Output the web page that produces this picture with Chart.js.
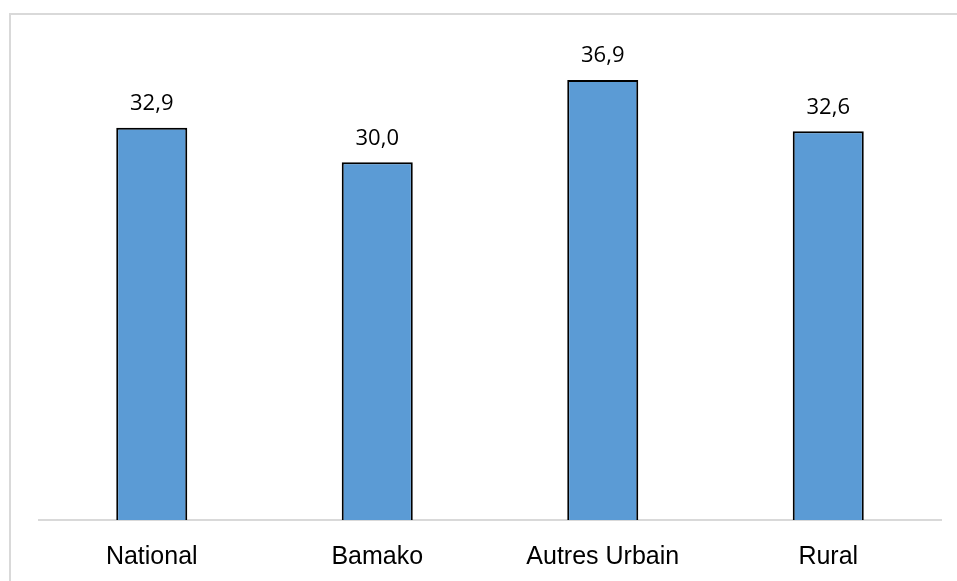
<!DOCTYPE html>
<html>
<head>
<meta charset="utf-8">
<script src="https://cdn.jsdelivr.net/npm/chart.js@4/dist/chart.umd.min.js"></script>
<style>
  html, body { margin: 0; padding: 0; background: #ffffff; }
  #wrap { position: relative; width: 957px; height: 581px; }
</style>
</head>
<body>
<div id="wrap"><canvas id="c" width="957" height="581"></canvas></div>
<script>
const categories = ["National", "Bamako", "Autres Urbain", "Rural"];
const values = [32.9, 30.0, 36.9, 32.6];
const valueLabels = ["32,9", "30,0", "36,9", "32,6"];

const frame = {
  id: 'frame',
  beforeDraw(chart) {
    const ctx = chart.ctx;
    ctx.save();
    ctx.fillStyle = '#ffffff';
    ctx.fillRect(0, 0, chart.width, chart.height);
    ctx.strokeStyle = '#d9d9d9';
    ctx.lineWidth = 2;
    ctx.strokeRect(10, 14, 1000, 700);
    ctx.restore();
  }
};

const valueLabelPlugin = {
  id: 'valueLabels',
  afterDatasetsDraw(chart) {
    const ctx = chart.ctx;
    const meta = chart.getDatasetMeta(0);
    ctx.save();
    ctx.font = '22px "Open Sans", "Noto Sans", sans-serif';
    ctx.fillStyle = '#000000';
    ctx.textAlign = 'center';
    ctx.textBaseline = 'middle';
    meta.data.forEach((bar, i) => {
      ctx.fillText(valueLabels[i], bar.x, bar.y - 24);
    });
    ctx.restore();
  }
};

new Chart(document.getElementById('c'), {
  type: 'bar',
  data: {
    labels: categories,
    datasets: [{
      data: values,
      backgroundColor: '#5B9BD5',
      borderColor: '#000000',
      borderWidth: 2,
      borderSkipped: 'bottom',
      categoryPercentage: 1,
      barPercentage: 0.315
    }]
  },
  options: {
    responsive: false,
    animation: false,
    devicePixelRatio: 1,
    layout: { padding: { left: 39, right: 16, top: 43, bottom: 0 } },
    plugins: { legend: { display: false }, tooltip: { enabled: false } },
    scales: {
      x: {
        grid: { display: false, drawTicks: false },
        border: { display: true, color: '#d9d9d9', width: 2 },
        ticks: {
          color: '#000000',
          padding: 22,
          font: { family: '"Liberation Sans Narrow", "Arial Narrow", "Liberation Sans", sans-serif', size: 25 }
        },
        afterFit(scale) { scale.height = 61; }
      },
      y: {
        display: false,
        min: 0,
        max: 40
      }
    }
  },
  plugins: [frame, valueLabelPlugin]
});
</script>
</body>
</html>
